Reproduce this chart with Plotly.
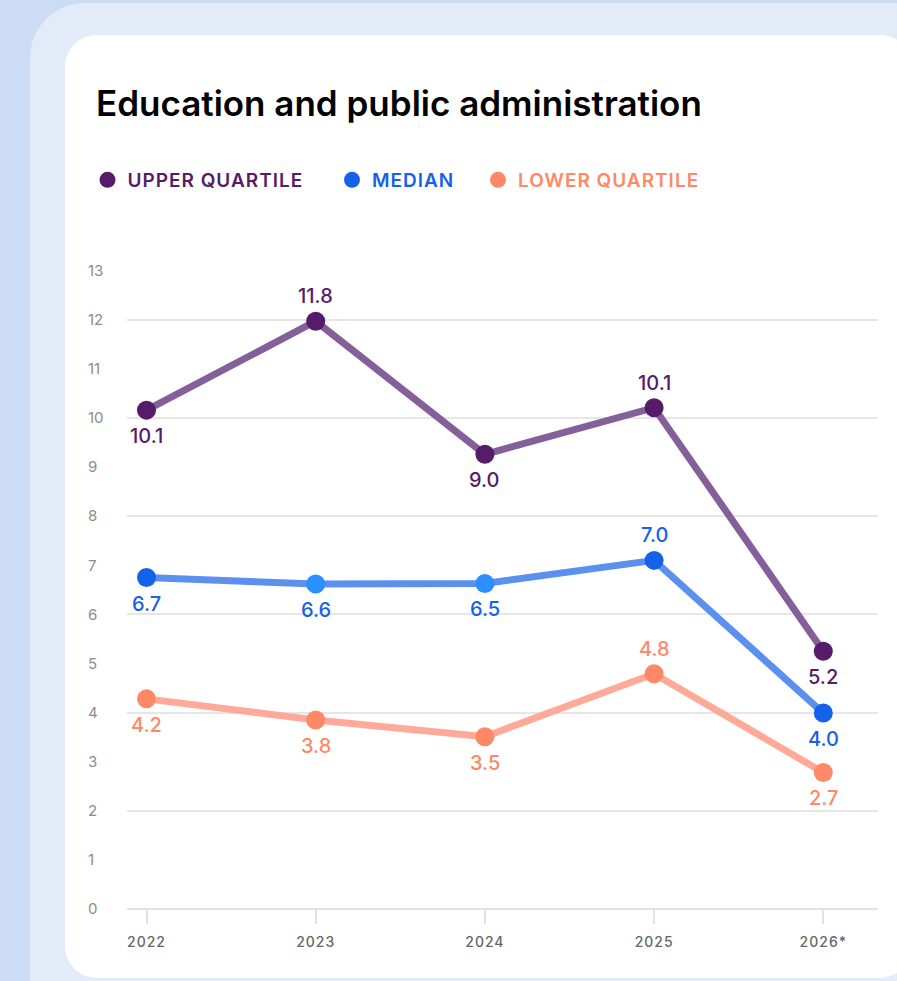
import plotly.graph_objects as go

# ---------------- data ----------------
years = ["2022", "2023", "2024", "2025", "2026*"]
upper = [10.16, 11.97, 9.26, 10.21, 5.25]
median = [6.75, 6.62, 6.63, 7.10, 3.99]
lower = [4.28, 3.85, 3.51, 4.79, 2.78]
upper_labels = ["10.1", "11.8", "9.0", "10.1", "5.2"]
median_labels = ["6.7", "6.6", "6.5", "7.0", "4.0"]
lower_labels = ["4.2", "3.8", "3.5", "4.8", "2.7"]
y_ticks = list(range(0, 14))
grid_vals = list(range(0, 13, 2))
series_names = ["UPPER QUARTILE", "MEDIAN", "LOWER QUARTILE"]
title_text = "Education and public administration"

# ---------------- styles ----------------
W, H = 897, 981
FONT = "Inter"
UP_M, UP_L = "#561B6B", "#83609A"
MED_M, MED_M2, MED_L = "#1561EA", "#2C8FFF", "#5B90EF"
LOW_M, LOW_L = "#FF8866", "#FFAA98"
upper_pos = ["below", "above", "below", "above", "below"]
median_pos = ["below", "below", "below", "above", "below"]
lower_pos = ["below", "below", "below", "above", "below"]
median_marker_colors = [MED_M, MED_M2, MED_M2, MED_M, MED_M]


def px(x):
    return x / W


def py(y):
    return 1 - y / H


def rrect(x0, y0, x1, y1, r):
    k = 0.5523 * r
    pts = [
        ("M", [(x0 + r, y0)]),
        ("L", [(x1 - r, y0)]),
        ("C", [(x1 - r + k, y0), (x1, y0 + r - k), (x1, y0 + r)]),
        ("L", [(x1, y1 - r)]),
        ("C", [(x1, y1 - r + k), (x1 - r + k, y1), (x1 - r, y1)]),
        ("L", [(x0 + r, y1)]),
        ("C", [(x0 + r - k, y1), (x0, y1 - r + k), (x0, y1 - r)]),
        ("L", [(x0, y0 + r)]),
        ("C", [(x0, y0 + r - k), (x0 + r - k, y0), (x0 + r, y0)]),
    ]
    s = ""
    for cmd, ps in pts:
        s += cmd + " " + " ".join(f"{px(a):.5f},{py(b):.5f}" for a, b in ps) + " "
    return s + "Z"


fig = go.Figure()

# lines
for vals, col in [(upper, UP_L), (median, MED_L), (lower, LOW_L)]:
    fig.add_trace(go.Scatter(x=years, y=vals, mode="lines",
                             line=dict(color=col, width=7),
                             showlegend=False, hoverinfo="skip"))

# markers (with legends)
legend_ids = ["legend", "legend2", "legend3"]
marker_sets = [(upper, UP_M), (median, median_marker_colors), (lower, LOW_M)]
name_colors = [UP_M, MED_M, LOW_M]
for i, ((vals, col), nm) in enumerate(zip(marker_sets, series_names)):
    fig.add_trace(go.Scatter(x=years, y=vals, mode="markers",
                             marker=dict(color=col, size=19),
                             showlegend=False, hoverinfo="skip"))
    fig.add_trace(go.Scatter(x=[None], y=[None], mode="markers",
                             marker=dict(color=name_colors[i], size=18),
                             name=f'<span style="letter-spacing:1px">{nm}</span>',
                             legend=legend_ids[i], showlegend=True))

# dummy trace for label axis
fig.add_trace(go.Scatter(x=[None], y=[None], yaxis="y2", showlegend=False,
                         hoverinfo="skip"))

# data labels (x given as category index)
for vals, labs, poss, col in [(upper, upper_labels, upper_pos, UP_M),
                              (median, median_labels, median_pos, MED_M),
                              (lower, lower_labels, lower_pos, LOW_M)]:
    for i, (y, t, p) in enumerate(zip(vals, labs, poss)):
        fig.add_annotation(x=i, y=y, text=t, showarrow=False,
                           yshift=25 if p == "above" else -26,
                           font=dict(family=FONT, size=20, color=col, weight=500))

# background shapes
shapes = [
    dict(type="path", path=rrect(30, 3, 948, 1040, 55), xref="paper", yref="paper",
         fillcolor="#E3EAF8", line=dict(width=0), layer="below"),
    dict(type="path", path=rrect(65, 35, 912, 978, 32), xref="paper", yref="paper",
         fillcolor="#FFFFFF", line=dict(width=0), layer="below"),
]

X0, DX = 146.5, 169.2
x_left, x_right = 126.5, 878
Y0, DY = 909, 49.1
ymin, ymax = -0.45, 13.3

fig.update_layout(
    width=W, height=H,
    margin=dict(l=0, r=0, t=0, b=0),
    paper_bgcolor="#CCDCF4",
    plot_bgcolor="#FFFFFF",
    shapes=shapes,
    font=dict(family=FONT),
    title=dict(text=title_text, x=px(96), xanchor="left", y=py(104), yanchor="middle",
               font=dict(family=FONT, size=35, color="#000000", weight=600)),
    xaxis=dict(
        type="category",
        domain=[px(x_left), px(x_right)],
        range=[(x_left - X0) / DX, (x_right - X0) / DX],
        anchor="free", position=py(Y0),
        showgrid=False, zeroline=False,
        showline=True, linecolor="#E2E2E2", linewidth=2,
        ticks="outside", ticklen=14, tickwidth=2, tickcolor="#E2E2E2",
        tickvals=years,
        ticktext=[f'<span style="letter-spacing:1px">{y}</span>' for y in years],
        tickfont=dict(family=FONT, size=14, color="#666666", weight=500),
        ticklabelstandoff=6,
        automargin=False, fixedrange=True,
    ),
    yaxis=dict(
        domain=[py(Y0 - ymin * DY), py(Y0 - ymax * DY)],
        range=[ymin, ymax],
        tickvals=grid_vals, showticklabels=False,
        showgrid=True, gridcolor="#E6E6E6", gridwidth=2,
        zeroline=False, showline=False, ticks="",
        automargin=False, fixedrange=True,
    ),
    yaxis2=dict(
        overlaying="y", anchor="free", position=px(84), side="left",
        range=[ymin, ymax],
        tickvals=y_ticks, ticktext=[str(v) for v in y_ticks],
        ticklabelposition="inside", ticks="",
        showgrid=False, zeroline=False, showline=False,
        tickfont=dict(family=FONT, size=15, color="#8C8C8C"),
        automargin=False, fixedrange=True,
    ),
    legend=dict(x=px(87.5), y=py(180), xanchor="left", yanchor="middle",
                orientation="h", bgcolor="rgba(0,0,0,0)",
                font=dict(family=FONT, size=19, color=UP_M, weight=600)),
    legend2=dict(x=px(332), y=py(180), xanchor="left", yanchor="middle",
                 orientation="h", bgcolor="rgba(0,0,0,0)",
                 font=dict(family=FONT, size=19, color=MED_M, weight=600)),
    legend3=dict(x=px(478), y=py(180), xanchor="left", yanchor="middle",
                 orientation="h", bgcolor="rgba(0,0,0,0)",
                 font=dict(family=FONT, size=19, color=LOW_M, weight=600)),
)

fig.write_html("out.html")
